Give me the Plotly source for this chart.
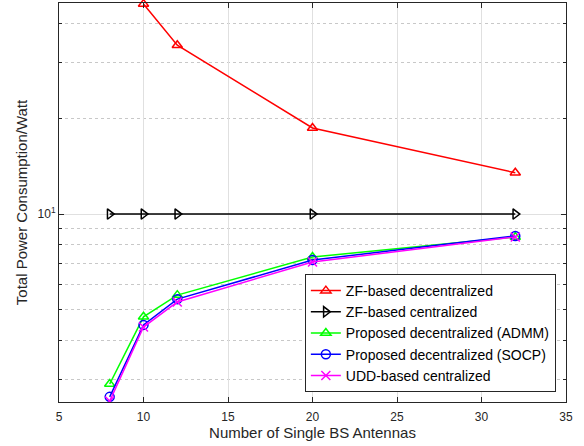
import plotly.graph_objects as go

antennas = [8, 10, 12, 20, 32]
zf_dec_x = [10, 12, 20, 32]
zf_dec = [46.0, 34.1, 18.7, 13.5]
zf_cen = [10, 10, 10, 10, 10]
admm = [2.91, 4.74, 5.55, 7.32, 8.46]
socp = [2.65, 4.47, 5.39, 7.16, 8.53]
udd = [2.57, 4.40, 5.28, 7.06, 8.47]

names = ["ZF-based decentralized", "ZF-based centralized",
         "Proposed decentralized (ADMM)", "Proposed decentralized (SOCP)",
         "UDD-based centralized"]

fig = go.Figure()
series = [
    (zf_dec_x, zf_dec, names[0], "#ff0000", "triangle-up-open"),
    (antennas, zf_cen, names[1], "#000000", "triangle-right-open"),
    (antennas, admm, names[2], "#00ff00", "triangle-up-open"),
    (antennas, socp, names[3], "#0000ff", "circle-open"),
    (antennas, udd, names[4], "#ff00ff", "x-thin-open"),
]
for x, y, n, c, s in series:
    fig.add_trace(go.Scatter(x=x, y=y, name=n, mode="lines+markers",
                             line=dict(color=c, width=1.5),
                             marker=dict(symbol=s, size=9, color=c,
                                         line=dict(color=c, width=1.5)),
                             cliponaxis=False if n == names[0] else True))

fig.update_layout(
    width=584, height=446,
    margin=dict(l=59, r=18, t=3, b=44),
    paper_bgcolor="white", plot_bgcolor="white",
    font=dict(family="Liberation Sans, Arial", size=12, color="#262626"),
    xaxis=dict(range=[5, 35], tickvals=[5, 10, 15, 20, 25, 30, 35],
               showgrid=True, gridcolor="#e0e0e0", gridwidth=1,
               showline=True, linecolor="#262626", linewidth=1, mirror="ticks",
               ticks="inside", ticklen=5, tickcolor="#262626",
               ticklabelstandoff=4,
               zeroline=False,
               title=dict(text="Number of Single BS Antennas", standoff=4,
                          font=dict(size=15))),
    yaxis=dict(type="log", range=[0.407, 1.666],
               tickvals=[10], ticktext=["10<sup>1</sup>"],
               showgrid=True, gridcolor="#e0e0e0", gridwidth=1,
               showline=True, linecolor="#262626", linewidth=1, mirror="ticks",
               ticks="inside", ticklen=5, tickcolor="#262626",
               minor=dict(tickvals=[3, 4, 5, 6, 7, 8, 9, 20, 30, 40],
                          showgrid=True, griddash="dot", gridcolor="#c8c8c8",
                          ticks="inside", ticklen=3, tickcolor="#262626"),
               title=dict(text="Total Power Consumption/Watt", standoff=6,
                          font=dict(size=15))),
    legend=dict(x=0.98, xanchor="right", y=0.025, yanchor="bottom",
                bgcolor="white", bordercolor="#262626", borderwidth=1,
                font=dict(size=14, color="#000000"),
                tracegroupgap=0, itemwidth=30),
)

fig.write_html("out.html")
